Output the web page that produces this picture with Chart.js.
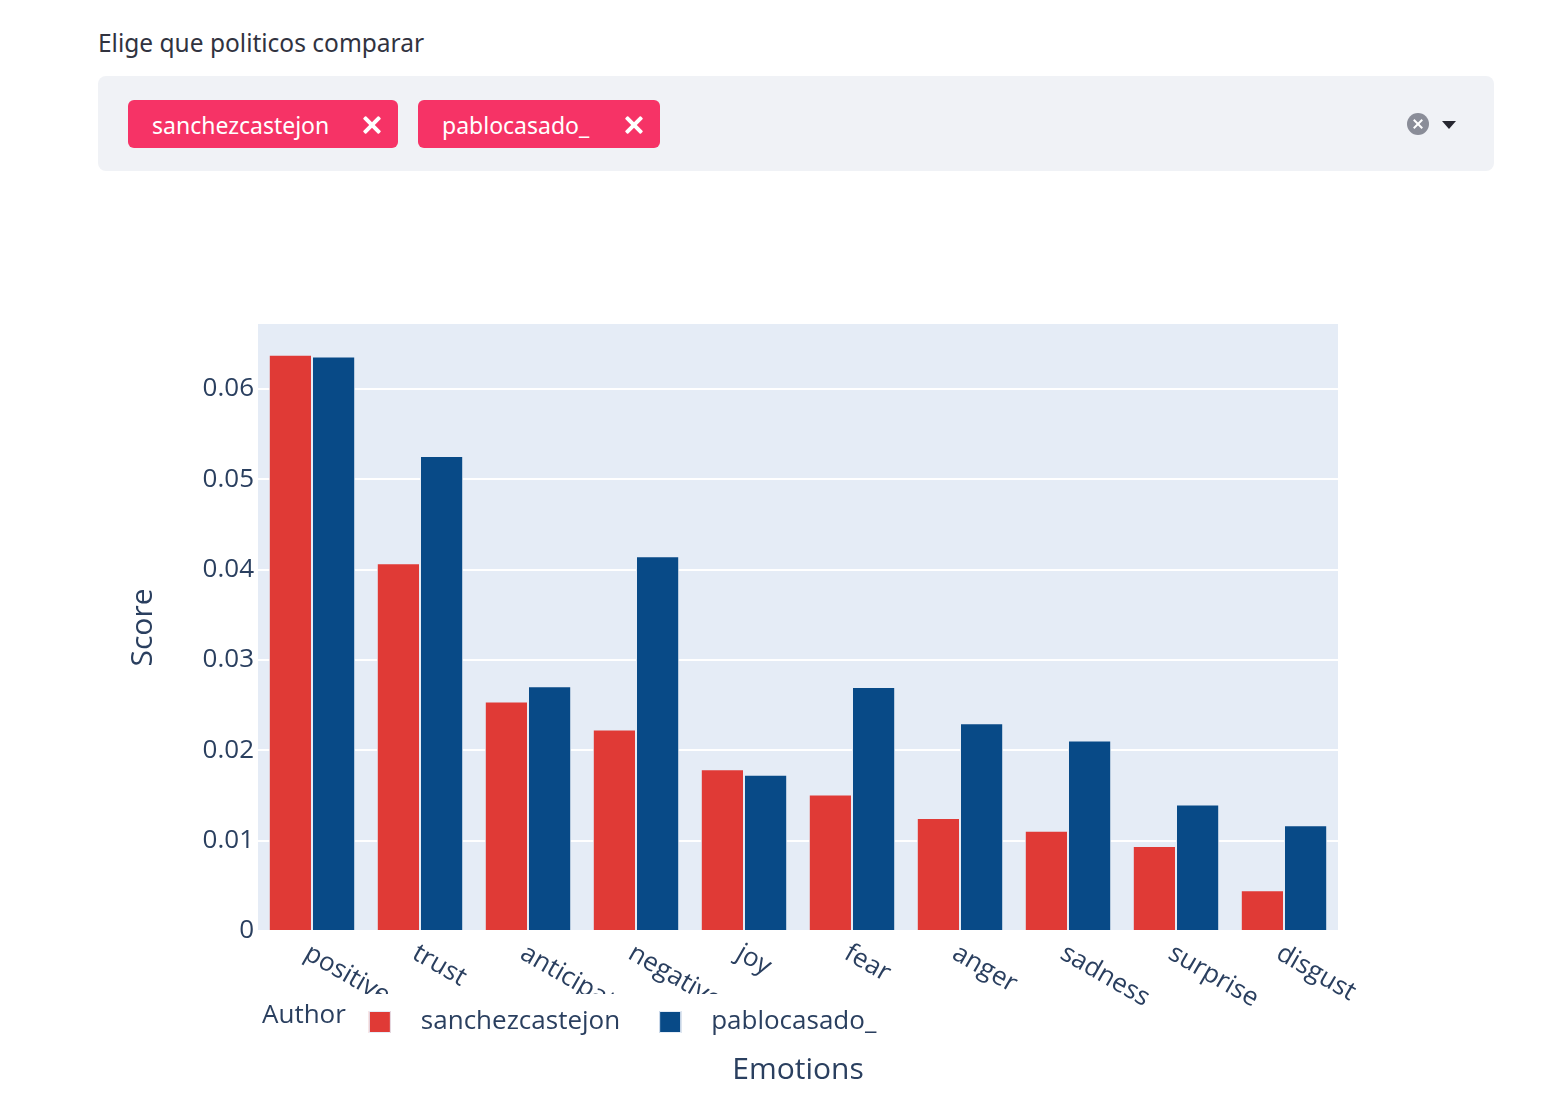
<!DOCTYPE html>
<html>
<head>
<meta charset="utf-8">
<script src="https://cdn.jsdelivr.net/npm/chart.js@4"></script>
<style>
  body { margin: 0; width: 1550px; height: 1106px; position: relative; overflow: hidden; background: #fff; font-family: "Noto Sans", sans-serif; }
  #etiqueta { position: absolute; left: 98px; top: 26px; font-size: 24.5px; color: #31333F; }
  #selector { position: absolute; left: 98px; top: 76px; width: 1396px; height: 95px; background: #F0F2F6; border-radius: 8px; }
  .tag { position: absolute; top: 24px; height: 48px; background: #F63366; border-radius: 6px; color: #fff; font-size: 23px; line-height: 50px; padding-left: 24px; box-sizing: border-box; }
  .cerrar { position: absolute; right: 16px; top: 15px; width: 20px; height: 20px; }
  .cerrar::before, .cerrar::after { content: ""; position: absolute; left: 8px; top: -1px; width: 4px; height: 22px; background: #fff; border-radius: 1px; }
  .cerrar::before { transform: rotate(45deg); }
  .cerrar::after { transform: rotate(-45deg); }
  #limpiar { position: absolute; left: 1309px; top: 37px; width: 22px; height: 22px; border-radius: 50%; background: #8A8D98; }
  #limpiar::before, #limpiar::after { content: ""; position: absolute; left: 10px; top: 5px; width: 2px; height: 12px; background: #fff; }
  #limpiar::before { transform: rotate(45deg); }
  #limpiar::after { transform: rotate(-45deg); }
  #flecha { position: absolute; left: 1344px; top: 45px; width: 0; height: 0; border-left: 7px solid transparent; border-right: 7px solid transparent; border-top: 8px solid #262730; }
  #contenedor { position: absolute; left: 98px; top: 190px; width: 1396px; height: 916px; }
</style>
</head>
<body>
<div id="etiqueta">Elige que politicos comparar</div>
<div id="selector">
  <div class="tag" style="left:30px; width:270px;">sanchezcastejon<span class="cerrar"></span></div>
  <div class="tag" style="left:320px; width:242px;">pablocasado_<span class="cerrar"></span></div>
  <div id="limpiar"></div>
  <div id="flecha"></div>
</div>
<div id="contenedor"><canvas id="grafico-emociones"></canvas></div>

<script>
// Datos
const emociones = ["positive", "trust", "anticipation", "negative", "joy", "fear", "anger", "sadness", "surprise", "disgust"];
const autores = ["sanchezcastejon", "pablocasado_"];
const valoresSanchez = [0.0638, 0.0407, 0.0254, 0.0223, 0.0179, 0.0151, 0.0125, 0.0111, 0.0094, 0.0045];
const valoresCasado = [0.0636, 0.0526, 0.0271, 0.0415, 0.0173, 0.0270, 0.0230, 0.0211, 0.0140, 0.0117];
const ticksY = [0, 0.01, 0.02, 0.03, 0.04, 0.05, 0.06];

const colorTexto = "#2a3f5f";
const colores = ["#E03A36", "#084A87"];

// Fondo del área del gráfico
const fondo = {
  id: "fondo",
  beforeDraw(chart) {
    const a = chart.chartArea;
    chart.ctx.save();
    chart.ctx.fillStyle = "#E5ECF6";
    chart.ctx.fillRect(a.left, a.top, a.right - a.left, a.bottom - a.top);
    chart.ctx.restore();
  }
};

// Etiquetas del eje X giradas (como plotly)
const etiquetasX = {
  id: "etiquetasX",
  afterDraw(chart) {
    const ctx = chart.ctx;
    const a = chart.chartArea;
    const x = chart.scales.x;
    ctx.save();
    ctx.font = '26px "Open Sans"';
    ctx.fillStyle = colorTexto;
    ctx.textAlign = "left";
    ctx.textBaseline = "top";
    chart.data.labels.forEach((lab, i) => {
      ctx.save();
      ctx.translate(x.getPixelForTick(i) + 1, a.bottom + 9);
      ctx.rotate(Math.PI / 6);
      ctx.fillText(lab, 0, 0);
      ctx.restore();
    });
    ctx.restore();
  }
};

// Leyenda horizontal con título "Author" (fondo blanco que tapa las etiquetas largas)
const leyenda = {
  id: "leyenda",
  afterDraw(chart) {
    const ctx = chart.ctx;
    const a = chart.chartArea;
    ctx.save();
    ctx.font = '26px "Open Sans"';
    ctx.textBaseline = "middle";
    ctx.textAlign = "left";
    let ancho = ctx.measureText("Author").width + 23;
    chart.data.datasets.forEach(ds => { ancho += 52 + ctx.measureText(ds.label).width + 39; });
    ctx.fillStyle = "#ffffff";
    ctx.fillRect(a.left - 8, a.bottom + 63, ancho, 59);

    let px = a.left + 4;
    const py = a.bottom + 91;
    ctx.fillStyle = colorTexto;
    ctx.fillText("Author", px, py - 6);
    px += ctx.measureText("Author").width + 23;
    chart.data.datasets.forEach(ds => {
      ctx.fillStyle = ds.backgroundColor;
      ctx.fillRect(px, py - 11, 22, 22);
      ctx.strokeStyle = "#E5ECF6";
      ctx.lineWidth = 1;
      ctx.strokeRect(px + 0.5, py - 10.5, 21, 21);
      px += 22 + 30;
      ctx.fillStyle = colorTexto;
      ctx.fillText(ds.label, px, py);
      px += ctx.measureText(ds.label).width + 39;
    });
    ctx.restore();
  }
};

const config = {
  type: "bar",
  data: {
    labels: emociones,
    datasets: [
      { label: autores[0], data: valoresSanchez, backgroundColor: colores[0], borderColor: "#E5ECF6", borderWidth: 1 },
      { label: autores[1], data: valoresCasado, backgroundColor: colores[1], borderColor: "#E5ECF6", borderWidth: 1 }
    ]
  },
  options: {
    responsive: true,
    maintainAspectRatio: false,
    animation: false,
    categoryPercentage: 0.8,
    barPercentage: 1.0,
    layout: { padding: { top: 134, right: 156, left: 0, bottom: 0 } },
    plugins: {
      legend: { display: false },
      tooltip: { enabled: false }
    },
    scales: {
      x: {
        grid: { display: false },
        border: { display: false },
        ticks: { display: false },
        title: { display: true, text: "Emotions", color: colorTexto, font: { family: "Open Sans", size: 30 }, padding: { top: 0, bottom: 18 } },
        afterFit: s => { s.height = 175; }
      },
      y: {
        min: 0,
        max: 0.0672,
        grid: { color: "#ffffff", lineWidth: 2, drawTicks: false },
        border: { display: false },
        afterBuildTicks: s => { s.ticks = ticksY.map(v => ({ value: v })); },
        ticks: {
          color: colorTexto,
          padding: 4,
          font: { family: "Open Sans", size: 26 },
          callback: v => v === 0 ? "0" : v.toFixed(2)
        },
        title: { display: true, text: "Score", color: colorTexto, font: { family: "Open Sans", size: 30 }, padding: { top: 27, bottom: 0 } },
        afterFit: s => { s.width = 160; }
      }
    }
  },
  plugins: [fondo, etiquetasX, leyenda]
};

new Chart(document.getElementById("grafico-emociones").getContext("2d"), config);
</script>
</body>
</html>
